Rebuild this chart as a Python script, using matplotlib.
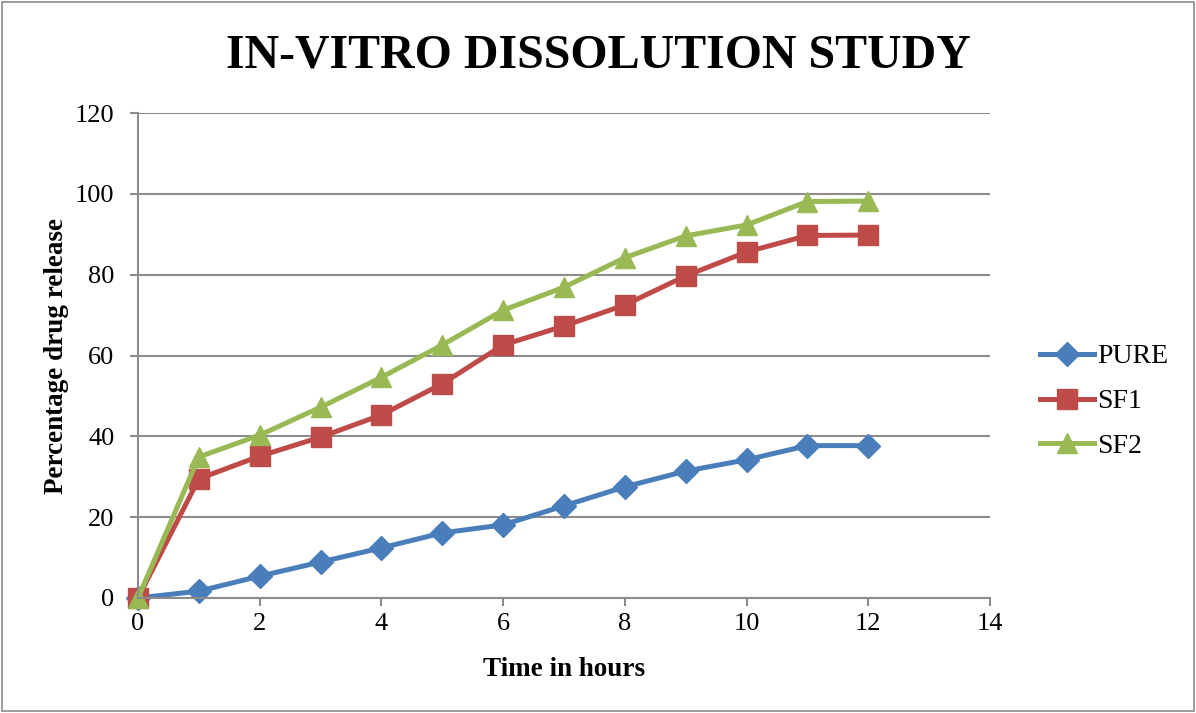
import matplotlib.pyplot as plt
from matplotlib.patches import Rectangle

# Percentage drug release against time for the pure drug and two formulations
hours = [0, 1, 2, 3, 4, 5, 6, 7, 8, 9, 10, 11, 12]
pure = [0, 1.7, 5.4, 8.9, 12.4, 16.1, 18.1, 22.8, 27.5, 31.4, 34.2, 37.7, 37.7]
sf1 = [0, 29.5, 35.1, 39.8, 45.3, 53.0, 62.6, 67.3, 72.5, 79.7, 85.6, 89.7, 89.8]
sf2 = [0, 34.9, 40.3, 47.2, 54.6, 62.6, 71.2, 76.9, 84.2, 89.6, 92.3, 98.1, 98.2]

plt.rcParams['font.family'] = ['Liberation Serif', 'DejaVu Serif']

fig = plt.figure(figsize=(11.96, 7.13), dpi=100)
ax = fig.add_axes([138 / 1196, 1 - 598 / 713, 852 / 1196, 485 / 713])

# outer chart frame
fig.patches.append(Rectangle((2 / 1196, 2 / 713), 1192 / 1196, 709 / 713,
                             transform=fig.transFigure, fill=False,
                             edgecolor='#8c8c8c', linewidth=1.2))

ax.plot(hours, pure, color='#4A7EBB', lw=3.6, marker='D', ms=12, label='PURE')
ax.plot(hours, sf1, color='#BE4B48', lw=3.6, marker='s', ms=14, label='SF1')
ax.plot(hours, sf2, color='#98B954', lw=3.6, marker='^', ms=15, label='SF2')

ax.set_xlim(0, 14)
ax.set_ylim(0, 120)
ax.set_xticks(range(0, 15, 2))
ax.set_yticks(range(0, 121, 20))
ax.grid(axis='y', color='#8c8c8c', lw=1.5)
ax.set_axisbelow(True)
for side in ['top', 'right']:
    ax.spines[side].set_visible(False)
for side in ['left', 'bottom']:
    ax.spines[side].set_color('#8c8c8c')
    ax.spines[side].set_linewidth(1.5)
ax.tick_params(colors='#8c8c8c', labelcolor='black', labelsize=19,
               length=6, width=1.5)
ax.tick_params(axis='y', pad=11)
ax.tick_params(axis='x', pad=5)
for m in ax.get_lines():
    m.set_clip_on(False)

ax.set_xlabel('Time in hours', fontsize=19.5, fontweight='bold', labelpad=16)
ax.set_ylabel('Percentage drug release', fontsize=19.5, fontweight='bold', labelpad=4)
fig.text(0.5, 1 - 55 / 713, 'IN-VITRO DISSOLUTION STUDY', ha='center', va='center',
         fontsize=34.5, fontweight='bold')

ax.legend(loc='center left', bbox_to_anchor=(1.0, 0.405), frameon=False,
          fontsize=20, handlelength=1.95, labelspacing=0.7, handletextpad=0.1,
          borderaxespad=1.4)

fig.savefig('out.png', dpi=100)
